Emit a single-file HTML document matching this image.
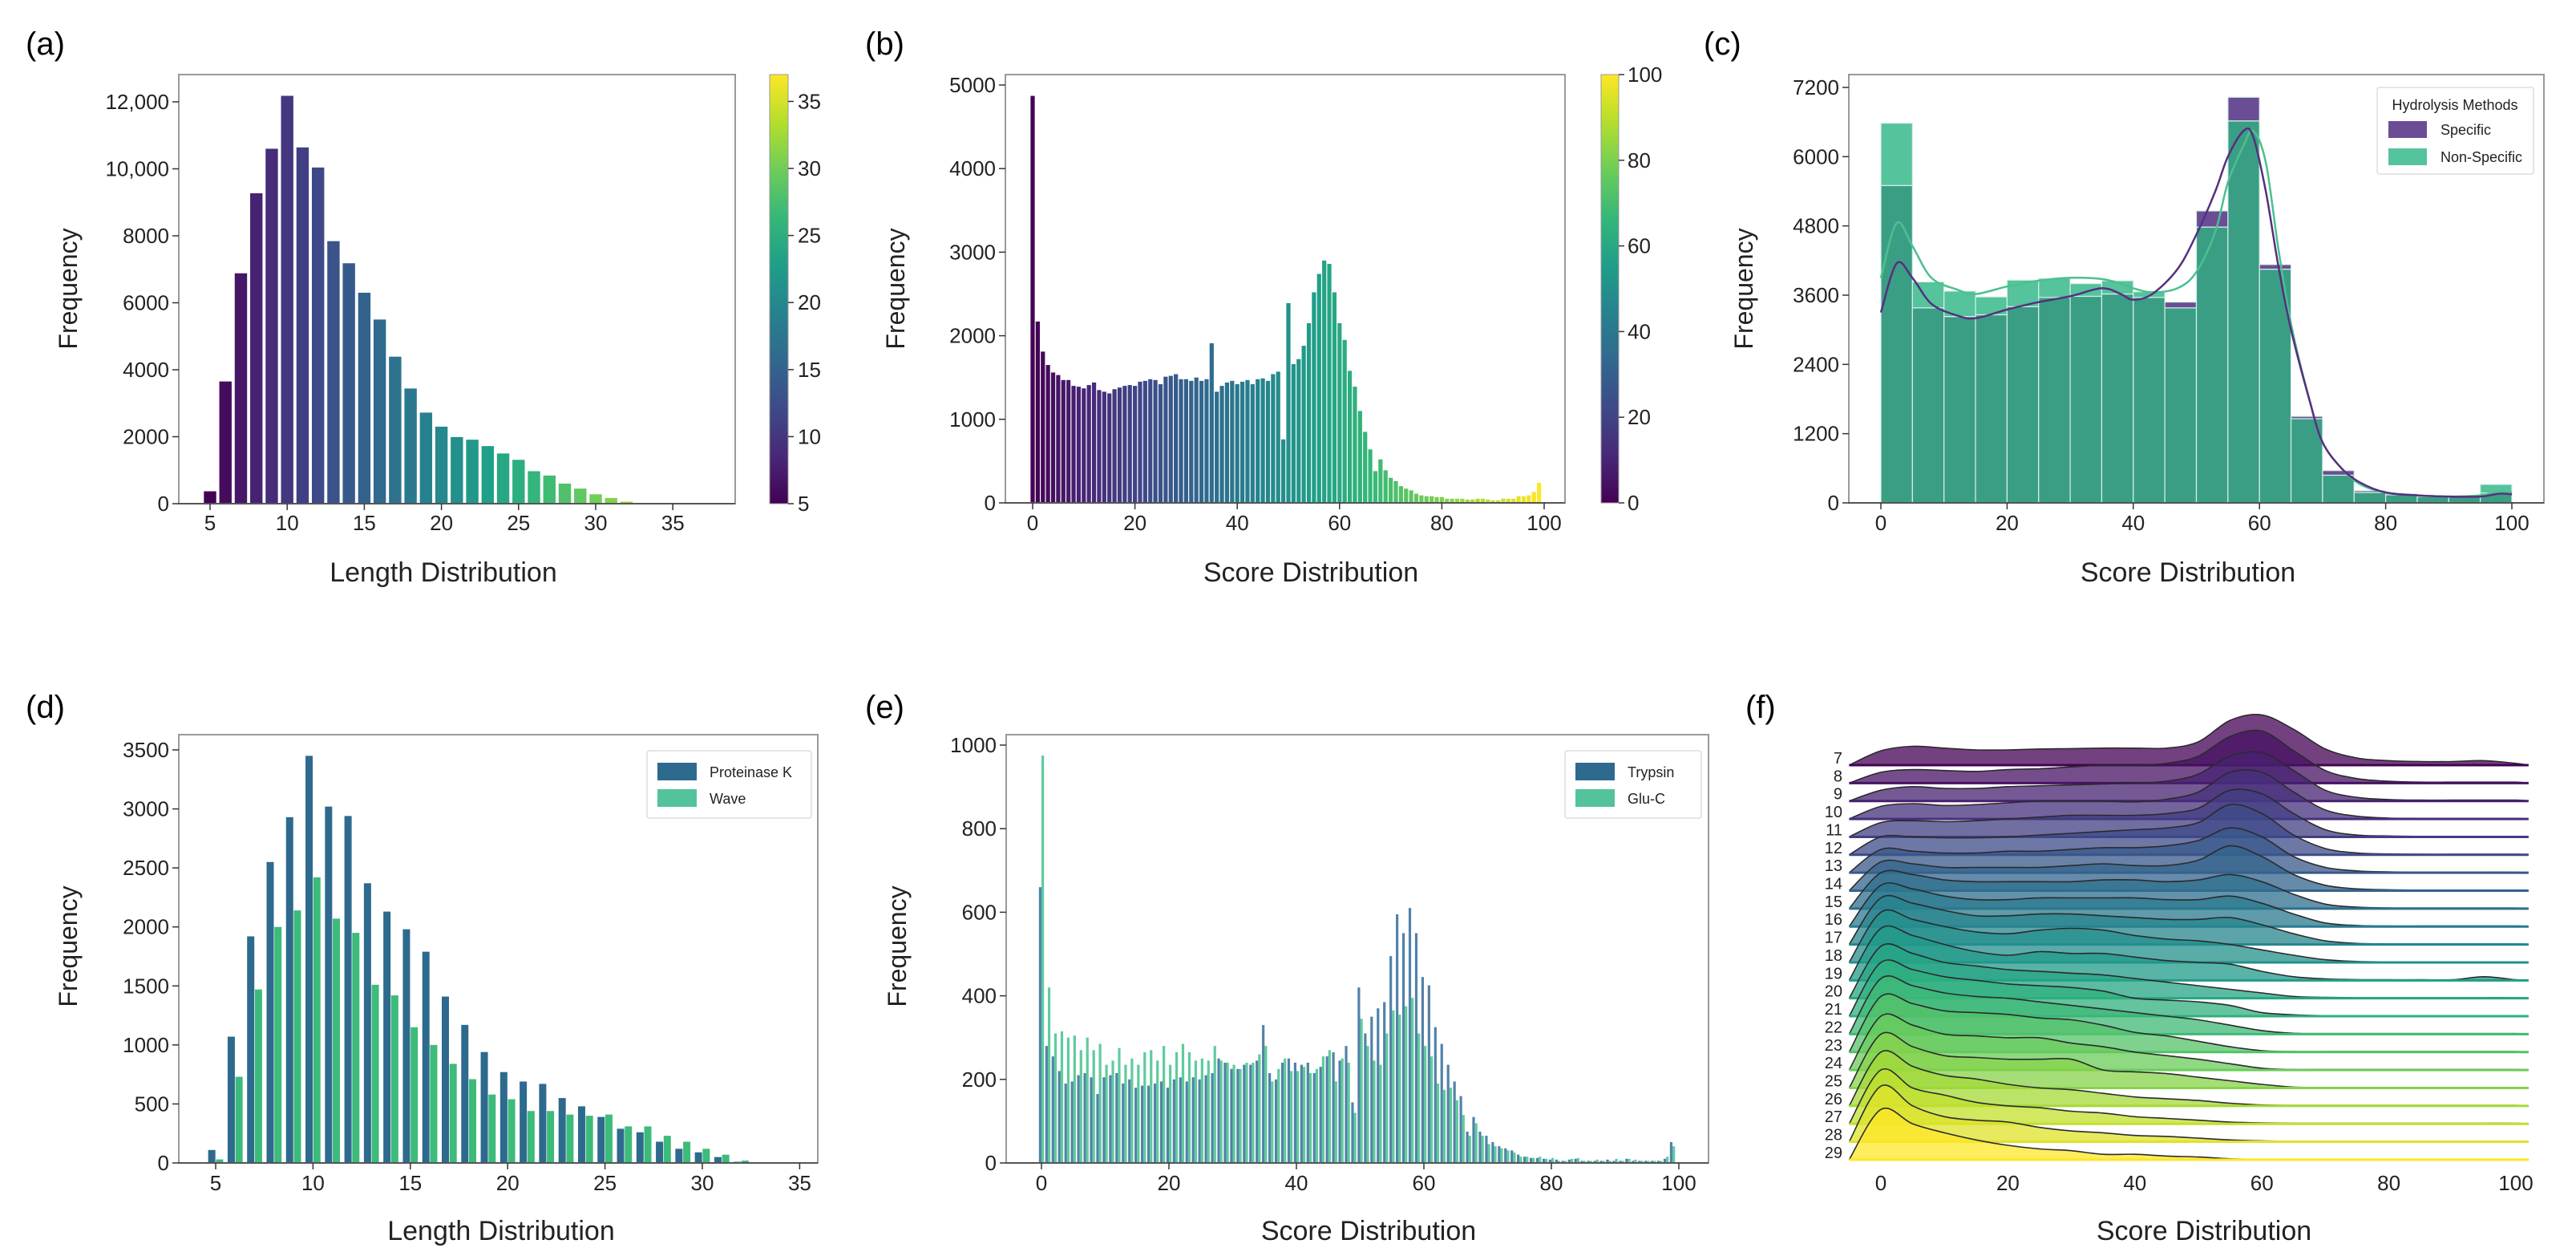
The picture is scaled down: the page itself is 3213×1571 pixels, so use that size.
<!DOCTYPE html>
<html><head><meta charset="utf-8"><style>
html,body{margin:0;padding:0;background:#fff;}
svg{display:block;font-family:"Liberation Sans",sans-serif;}
</style></head><body>
<svg id="fig" xmlns="http://www.w3.org/2000/svg" width="3213" height="1571" viewBox="0 0 3213 1571">
<defs>
<linearGradient id="vir" x1="0" y1="1" x2="0" y2="0">
<stop offset="0" stop-color="#440154"/><stop offset="0.111" stop-color="#482878"/><stop offset="0.222" stop-color="#3e4a89"/><stop offset="0.333" stop-color="#31688e"/><stop offset="0.444" stop-color="#26828e"/><stop offset="0.556" stop-color="#1f9e89"/><stop offset="0.667" stop-color="#35b779"/><stop offset="0.778" stop-color="#6dcd59"/><stop offset="0.889" stop-color="#b4de2c"/><stop offset="1" stop-color="#fde725"/>
</linearGradient>
</defs>
<text x="32" y="68" font-size="40">(a)</text>
<text x="1079" y="68" font-size="40">(b)</text>
<text x="2125" y="68" font-size="40">(c)</text>
<text x="32" y="895" font-size="40">(d)</text>
<text x="1079" y="895" font-size="40">(e)</text>
<text x="2177" y="895" font-size="40">(f)</text>
</svg>
<script>
// ---------- data ----------
const lenCats = [5,6,7,8,9,10,11,12,13,14,15,16,17,18,19,20,21,22,23,24,25,26,27,28,29,30,31,32,33,34,35,36,37];
const lenFreq = [370,3650,6880,9270,10600,12180,10640,10040,7840,7180,6300,5500,4390,3440,2720,2300,1990,1910,1720,1500,1310,970,840,600,450,280,170,60,20,10,5,5,3];
const lenYTicks = [0,2000,4000,6000,8000,10000,12000];
const lenYLabels = ['0','2000','4000','6000','8000','10,000','12,000'];
const lenXTicks = [5,10,15,20,25,30,35];

const scoreFreq = [4870,2170,1810,1650,1560,1530,1470,1470,1400,1390,1370,1410,1440,1350,1330,1310,1360,1380,1400,1410,1400,1450,1460,1480,1470,1420,1510,1520,1540,1480,1480,1460,1500,1460,1480,1910,1330,1400,1440,1460,1420,1450,1470,1420,1480,1490,1460,1540,1570,760,2390,1660,1720,1880,2150,2520,2740,2900,2860,2520,2150,1950,1580,1390,1100,850,640,380,520,390,300,260,200,170,150,110,90,80,80,70,70,50,50,50,50,40,40,50,50,40,30,30,50,50,50,80,80,90,130,240];
const scoreYTicks = [0,1000,2000,3000,4000,5000];
const scoreXTicks = [0,20,40,60,80,100];

const binStarts = [0,5,10,15,20,25,30,35,40,45,50,55,60,65,70,75,80,85,90,95];
const specificCounts = [5500,3380,3230,3260,3400,3560,3580,3620,3560,3480,5060,7030,4130,1500,560,210,160,120,110,170];
const nonSpecificCounts = [6580,3830,3670,3570,3860,3890,3800,3850,3660,3380,4780,6620,4050,1460,480,180,140,110,110,320];
const kdeX = [0,2.5,5,8,12,15,20,25,30,35,38,40,43,47,50,53,55,57.5,59,61,63,65,68,70,73,76,80,85,90,95,98,100];
const kdeSpecific = [3300,4150,3900,3450,3250,3200,3350,3480,3580,3720,3620,3520,3620,4050,4650,5400,6000,6450,6350,5400,4100,3000,1750,1050,600,350,180,130,110,110,160,150];
const kdeNonSpecific = [3900,4850,4450,3900,3700,3620,3750,3850,3900,3880,3800,3720,3650,3720,4000,4700,5550,6200,6450,5900,4400,3100,1750,1050,600,320,180,130,110,130,200,180];
const cYTicks = [0,1200,2400,3600,4800,6000,7200];

const dCats = [5,6,7,8,9,10,11,12,13,14,15,16,17,18,19,20,21,22,23,24,25,26,27,28,29,30,31,32];
const proteinaseK = [110,1070,1920,2550,2930,3450,3020,2940,2370,2130,1980,1790,1410,1170,940,770,690,670,550,480,390,290,260,180,120,90,50,10];
const wave = [30,730,1470,2000,2140,2420,2070,1950,1510,1420,1150,1000,840,710,580,540,440,440,410,400,410,310,310,230,180,120,70,20];
const dYTicks = [0,500,1000,1500,2000,2500,3000,3500];

const trypsin = [660,280,255,220,190,195,210,215,205,165,205,210,215,190,200,180,185,185,190,195,180,200,205,195,205,200,210,215,250,240,225,225,235,235,245,330,215,200,240,250,240,235,240,215,230,255,265,245,280,145,420,310,350,370,385,495,595,550,610,550,445,425,325,285,235,195,160,75,110,75,65,50,40,35,30,20,15,12,12,10,8,8,5,8,10,5,5,5,5,8,5,5,10,5,5,5,5,5,10,50,0];
const gluC = [975,420,310,315,300,305,270,300,270,285,235,245,275,235,250,235,265,270,245,280,235,265,285,265,245,250,245,280,245,240,235,225,240,240,260,280,195,225,250,220,220,230,215,225,255,270,195,250,240,120,345,280,245,235,310,365,355,375,395,310,280,255,190,175,180,150,115,65,95,65,45,40,35,30,25,15,15,12,15,10,12,5,5,10,12,5,5,8,5,5,10,5,10,8,5,5,5,5,15,40,0];
const eYTicks = [0,200,400,600,800,1000];

const ridgeRows = [7,8,9,10,11,12,13,14,15,16,17,18,19,20,21,22,23,24,25,26,27,28,29];
const ridgeX = [-5,0,5,10,15,20,25,30,35,40,45,50,55,60,65,70,75,80,85,90,95,100];
const ridgeDensity = [
[0,0.8,1.05,0.95,0.85,0.85,0.9,0.92,0.95,0.95,0.95,1.3,2.5,2.8,2.0,0.9,0.4,0.25,0.2,0.2,0.25,0.1],
[0,0.6,0.75,0.7,0.65,0.75,0.8,0.9,1.0,1.0,1.1,1.5,2.6,2.9,1.8,0.7,0.25,0.1,0.05,0.05,0.05,0.05],
[0,0.6,0.8,0.7,0.7,0.8,0.85,0.9,0.95,1.0,1.1,1.5,2.5,2.7,1.7,0.6,0.2,0.08,0.05,0.05,0.05,0.05],
[0,0.7,0.85,0.75,0.8,0.9,1.0,1.0,1.0,0.95,1.1,1.5,2.6,2.6,1.5,0.5,0.15,0.05,0.03,0.03,0.03,0.03],
[0,0.8,0.9,0.85,0.9,1.0,1.1,1.2,1.2,1.2,1.3,1.6,2.6,2.4,1.3,0.4,0.1,0.05,0.03,0.03,0.03,0.03],
[0,1.0,1.0,0.95,0.95,1.0,1.1,1.2,1.3,1.4,1.5,1.8,2.8,2.3,1.1,0.35,0.1,0.05,0.03,0.03,0.03,0.03],
[0,1.3,1.2,1.1,1.1,1.2,1.2,1.3,1.4,1.4,1.5,1.8,2.5,2.0,0.9,0.3,0.1,0.05,0.03,0.03,0.03,0.03],
[0,1.6,1.5,1.3,1.3,1.3,1.3,1.4,1.5,1.4,1.4,1.7,2.5,1.9,0.9,0.3,0.1,0.05,0.03,0.03,0.03,0.03],
[0,2.0,1.9,1.6,1.5,1.5,1.5,1.5,1.6,1.6,1.5,1.6,1.9,1.5,0.8,0.25,0.08,0.04,0.03,0.03,0.03,0.03],
[0,2.3,2.1,1.7,1.5,1.5,1.6,1.6,1.6,1.6,1.5,1.5,1.7,1.3,0.7,0.2,0.06,0.03,0.03,0.03,0.03,0.03],
[0,2.6,2.3,1.9,1.6,1.6,1.7,1.7,1.6,1.5,1.4,1.4,1.5,1.1,0.6,0.2,0.06,0.03,0.03,0.03,0.03,0.03],
[0,2.8,2.4,2.0,1.7,1.6,1.8,1.9,1.8,1.5,1.3,1.2,1.0,0.7,0.4,0.15,0.05,0.03,0.03,0.03,0.03,0.03],
[0,2.9,2.5,2.0,1.6,1.4,1.6,1.5,1.5,1.3,1.1,1.0,0.9,0.5,0.2,0.08,0.04,0.03,0.03,0.03,0.2,0.03],
[0,2.9,2.5,2.0,1.8,1.6,1.5,1.4,1.3,1.1,0.9,0.7,0.5,0.3,0.1,0.05,0.03,0.03,0.03,0.03,0.03,0.03],
[0,3.0,2.6,2.2,2.0,1.8,1.7,1.6,1.4,1.0,0.9,0.8,0.6,0.2,0.08,0.03,0.03,0.03,0.03,0.03,0.03,0.03],
[0,3.1,2.7,2.3,2.1,2.0,1.8,1.6,1.4,1.2,1.0,0.8,0.5,0.2,0.05,0.03,0.03,0.03,0.03,0.03,0.03,0.03],
[0,3.1,2.7,2.3,2.2,2.1,1.9,1.8,1.5,1.1,0.9,0.6,0.3,0.08,0.03,0.03,0.03,0.03,0.03,0.03,0.03,0.03],
[0,3.0,2.5,2.0,1.9,1.8,1.8,1.5,1.3,1.0,0.8,0.6,0.35,0.1,0.03,0.03,0.03,0.03,0.03,0.03,0.03,0.03],
[0,3.0,2.3,1.8,1.7,1.6,1.6,1.6,1.0,0.9,0.8,0.6,0.4,0.2,0.05,0.03,0.03,0.03,0.03,0.03,0.03,0.03],
[0,3.0,2.2,1.7,1.5,1.2,1.0,0.9,0.7,0.5,0.4,0.3,0.15,0.05,0.03,0.03,0.03,0.03,0.03,0.03,0.03,0.03],
[0,3.0,2.0,1.6,1.2,1.0,0.9,0.7,0.6,0.4,0.3,0.2,0.1,0.05,0.03,0.03,0.03,0.03,0.03,0.03,0.03,0.03],
[0,3.1,2.0,1.4,1.2,1.1,0.8,0.6,0.5,0.35,0.3,0.2,0.1,0.05,0.03,0.03,0.03,0.03,0.03,0.03,0.03,0.03],
[0,2.8,2.0,1.5,1.1,0.8,0.6,0.5,0.3,0.3,0.2,0.15,0.05,0.02,0.02,0.02,0.02,0.02,0.02,0.02,0.02,0.02]
];
const fXTicks = [0,20,40,60,80,100];

// ---------- helpers ----------
const NS = 'http://www.w3.org/2000/svg';
const svg = document.getElementById('fig');
function add(parent, tag, attrs, name) {
  const el = document.createElementNS(NS, tag);
  for (const k in attrs) el.setAttribute(k, attrs[k]);
  
  
  parent.appendChild(el);
  return el;
}
function txt(parent, x, y, s, size, anchor, name, extra) {
  const el = add(parent, 'text', Object.assign({x: x, y: y, 'font-size': size, 'text-anchor': anchor || 'start', fill: '#222'}, extra || {}), name);
  el.textContent = s;
  return el;
}
const VIR = [[68,1,84],[72,40,120],[62,74,137],[49,104,142],[38,130,142],[31,158,137],[53,183,121],[109,205,89],[180,222,44],[253,231,37]];
function viridis(t) {
  t = Math.max(0, Math.min(1, t));
  const p = t * (VIR.length - 1), i = Math.min(VIR.length - 2, Math.floor(p)), f = p - i;
  const c = VIR[i].map((v, k) => Math.round(v + (VIR[i + 1][k] - v) * f));
  return 'rgb(' + c.join(',') + ')';
}
function smoothPath(pts) {
  let d = 'M' + pts[0][0] + ',' + pts[0][1];
  for (let i = 0; i < pts.length - 1; i++) {
    const p0 = pts[Math.max(0, i - 1)], p1 = pts[i], p2 = pts[i + 1], p3 = pts[Math.min(pts.length - 1, i + 2)];
    const c1x = p1[0] + (p2[0] - p0[0]) / 6, c1y = p1[1] + (p2[1] - p0[1]) / 6;
    const c2x = p2[0] - (p3[0] - p1[0]) / 6, c2y = p2[1] - (p3[1] - p1[1]) / 6;
    d += ' C' + c1x.toFixed(1) + ',' + c1y.toFixed(1) + ' ' + c2x.toFixed(1) + ',' + c2y.toFixed(1) + ' ' + p2[0].toFixed(1) + ',' + p2[1].toFixed(1);
  }
  return d;
}
function frame(g, x0, y0, x1, y1, name) {
  add(g, 'rect', {x: x0, y: y0, width: x1 - x0, height: y1 - y0, fill: 'none', stroke: '#9a9a9a', 'stroke-width': 2}, name);
}
function yAxis(g, x0, ticks, labels, yf, pfx) {
  ticks.forEach((t, i) => {
    add(g, 'line', {x1: x0 - 8, x2: x0, y1: yf(t), y2: yf(t), stroke: '#333', 'stroke-width': 1.5}, pfx + '-y-tick');
    txt(g, x0 - 12, yf(t) + 9, labels[i], 26, 'end', pfx + '-y-tick-label');
  });
}
function xAxis(g, yb, ticks, xf, ly, pfx, noTick) {
  ticks.forEach(t => {
    if (!noTick) add(g, 'line', {x1: xf(t), x2: xf(t), y1: yb, y2: yb + 8, stroke: '#333', 'stroke-width': 1.5}, pfx + '-x-tick');
    txt(g, xf(t), ly, String(t), 26, 'middle', pfx + '-x-tick-label');
  });
}
function yTitle(g, x, y, pfx) {
  txt(g, x, y, 'Frequency', 32, 'middle', pfx + '-y-axis-title', {transform: 'rotate(-90 ' + x + ' ' + y + ')'});
}

// ---------- panel a ----------
(function () {
  const g = add(svg, 'g', {}, 'panel-a-length-histogram');
  const xA = v => 262 + (v - 5) * 19.24;
  const yA = v => 628 - v * (501 / 12000);
  lenCats.forEach((c, i) => {
    add(g, 'rect', {x: xA(c) - 7.7, y: yA(lenFreq[i]), width: 15.4, height: 628 - yA(lenFreq[i]), fill: viridis((c - 5) / 32)}, 'bar-length-' + c);
  });
  frame(g, 223, 93, 917, 628, 'panel-a-plot-frame');
  add(g, 'line', {x1: 223, x2: 917, y1: 628, y2: 628, stroke: '#555', 'stroke-width': 2}, 'panel-a-x-axis');
  yAxis(g, 223, lenYTicks, lenYLabels, yA, 'panel-a');
  xAxis(g, 628, lenXTicks, xA, 661, 'panel-a');
  txt(g, 553, 725, 'Length Distribution', 34, 'middle', 'panel-a-x-axis-title');
  yTitle(g, 96, 360, 'panel-a');
  add(g, 'rect', {x: 960, y: 93, width: 23, height: 535, fill: 'url(#vir)', stroke: '#999', 'stroke-width': 1}, 'panel-a-colorbar');
  [5,10,15,20,25,30,35].forEach(v => {
    const y = 628 - (v - 5) / 32 * 535;
    add(g, 'line', {x1: 983, x2: 990, y1: y, y2: y, stroke: '#333', 'stroke-width': 1.5}, 'colorbar-a-tick');
    txt(g, 995, y + 9, String(v), 26, 'start', 'colorbar-a-tick-label');
  });
})();

// ---------- panel b ----------
(function () {
  const g = add(svg, 'g', {}, 'panel-b-score-histogram');
  const xB = v => 1288 + v * 6.38;
  const yB = v => 627 - v * (521 / 5000);
  scoreFreq.forEach((f, i) => {
    add(g, 'rect', {x: xB(i) - 2.6, y: yB(f), width: 5.2, height: 627 - yB(f), fill: viridis(i / 99)}, 'bar-score-' + i);
  });
  frame(g, 1254, 93, 1952, 627, 'panel-b-plot-frame');
  add(g, 'line', {x1: 1254, x2: 1952, y1: 627, y2: 627, stroke: '#555', 'stroke-width': 2}, 'panel-b-x-axis');
  yAxis(g, 1254, scoreYTicks, scoreYTicks.map(String), yB, 'panel-b');
  xAxis(g, 627, scoreXTicks, xB, 661, 'panel-b');
  txt(g, 1635, 725, 'Score Distribution', 34, 'middle', 'panel-b-x-axis-title');
  yTitle(g, 1128, 360, 'panel-b');
  add(g, 'rect', {x: 1997, y: 93, width: 22, height: 534, fill: 'url(#vir)', stroke: '#999', 'stroke-width': 1}, 'panel-b-colorbar');
  [0,20,40,60,80,100].forEach(v => {
    const y = 627 - v / 100 * 534;
    add(g, 'line', {x1: 2019, x2: 2026, y1: y, y2: y, stroke: '#333', 'stroke-width': 1.5}, 'colorbar-b-tick');
    txt(g, 2030, y + 9, String(v), 26, 'start', 'colorbar-b-tick-label');
  });
})();

// ---------- panel c ----------
(function () {
  const g = add(svg, 'g', {}, 'panel-c-hydrolysis-histogram');
  const xC = v => 2346 + v * 7.87;
  const yC = v => 627 - v * (518 / 7200);
  binStarts.forEach((b, i) => {
    const s = specificCounts[i], n = nonSpecificCounts[i], lo = Math.min(s, n), hi = Math.max(s, n);
    const x0 = xC(b), w = xC(b + 5) - x0;
    add(g, 'rect', {x: x0, y: yC(lo), width: w, height: 627 - yC(lo), fill: '#3a9e84', stroke: '#d8efe8', 'stroke-width': 1.2}, 'bar-overlap-' + b);
    add(g, 'rect', {x: x0, y: yC(hi), width: w, height: yC(lo) - yC(hi), fill: s > n ? '#6b4d96' : '#55c39b', stroke: '#d8efe8', 'stroke-width': 1.2}, s > n ? 'bar-specific-' + b : 'bar-non-specific-' + b);
  });
  add(g, 'path', {d: smoothPath(kdeX.map((x, i) => [xC(x), yC(kdeNonSpecific[i])])), fill: 'none', stroke: '#4cc08f', 'stroke-width': 2.5}, 'kde-non-specific');
  add(g, 'path', {d: smoothPath(kdeX.map((x, i) => [xC(x), yC(kdeSpecific[i])])), fill: 'none', stroke: '#55307f', 'stroke-width': 2.5}, 'kde-specific');
  frame(g, 2306, 93, 3173, 627, 'panel-c-plot-frame');
  add(g, 'line', {x1: 2306, x2: 3173, y1: 627, y2: 627, stroke: '#555', 'stroke-width': 2}, 'panel-c-x-axis');
  yAxis(g, 2306, cYTicks, cYTicks.map(String), yC, 'panel-c');
  xAxis(g, 627, scoreXTicks, xC, 661, 'panel-c');
  txt(g, 2729, 725, 'Score Distribution', 34, 'middle', 'panel-c-x-axis-title');
  yTitle(g, 2186, 360, 'panel-c');
  const lg = add(g, 'g', {}, 'panel-c-legend');
  add(lg, 'rect', {x: 2965, y: 109, width: 195, height: 108, fill: '#fff', stroke: '#ddd', 'stroke-width': 1.5, rx: 3}, 'legend-box');
  txt(lg, 3062, 137, 'Hydrolysis Methods', 18, 'middle', 'legend-title');
  add(lg, 'rect', {x: 2979, y: 151, width: 48, height: 21, fill: '#6b4d96'}, 'legend-swatch-specific');
  txt(lg, 3044, 168, 'Specific', 18, 'start', 'legend-label-specific');
  add(lg, 'rect', {x: 2979, y: 185, width: 48, height: 21, fill: '#55c39b'}, 'legend-swatch-non-specific');
  txt(lg, 3044, 202, 'Non-Specific', 18, 'start', 'legend-label-non-specific');
})();

// ---------- panel d ----------
(function () {
  const g = add(svg, 'g', {}, 'panel-d-length-by-enzyme');
  const xD = v => 269 + (v - 5) * 24.28;
  const yD = v => 1450 - v * (515 / 3500);
  dCats.forEach((c, i) => {
    add(g, 'rect', {x: xD(c - 0.2) - 4.5, y: yD(proteinaseK[i]), width: 9, height: 1450 - yD(proteinaseK[i]), fill: '#2d6a8e'}, 'bar-proteinase-k-' + c);
    add(g, 'rect', {x: xD(c + 0.2) - 4.5, y: yD(wave[i]), width: 9, height: 1450 - yD(wave[i]), fill: '#3dbb7a'}, 'bar-wave-' + c);
  });
  frame(g, 223, 916, 1020, 1450, 'panel-d-plot-frame');
  add(g, 'line', {x1: 223, x2: 1020, y1: 1450, y2: 1450, stroke: '#555', 'stroke-width': 2}, 'panel-d-x-axis');
  yAxis(g, 223, dYTicks, dYTicks.map(String), yD, 'panel-d');
  xAxis(g, 1450, [5,10,15,20,25,30,35], xD, 1484, 'panel-d');
  txt(g, 625, 1546, 'Length Distribution', 34, 'middle', 'panel-d-x-axis-title');
  yTitle(g, 96, 1180, 'panel-d');
  const lg = add(g, 'g', {}, 'panel-d-legend');
  add(lg, 'rect', {x: 807, y: 936, width: 205, height: 84, fill: '#fff', stroke: '#ddd', 'stroke-width': 1.5, rx: 3}, 'legend-box');
  add(lg, 'rect', {x: 820, y: 951, width: 49, height: 22, fill: '#2d6a8e'}, 'legend-swatch-proteinase-k');
  txt(lg, 885, 969, 'Proteinase K', 18, 'start', 'legend-label-proteinase-k');
  add(lg, 'rect', {x: 820, y: 984, width: 49, height: 22, fill: '#52c39a'}, 'legend-swatch-wave');
  txt(lg, 885, 1002, 'Wave', 18, 'start', 'legend-label-wave');
})();

// ---------- panel e ----------
(function () {
  const g = add(svg, 'g', {}, 'panel-e-score-by-enzyme');
  const xE = v => 1299 + v * 7.95;
  const yE = v => 1450 - v * 0.521;
  trypsin.forEach((t, i) => {
    add(g, 'rect', {x: xE(i - 0.2) - 1.6, y: yE(t), width: 3.2, height: 1450 - yE(t), fill: '#3f74a0', 'fill-opacity': 0.9}, 'bar-trypsin-' + i);
    add(g, 'rect', {x: xE(i + 0.2) - 1.6, y: yE(gluC[i]), width: 3.2, height: 1450 - yE(gluC[i]), fill: '#4fc592', 'fill-opacity': 0.9}, 'bar-glu-c-' + i);
  });
  frame(g, 1255, 916, 2131, 1450, 'panel-e-plot-frame');
  add(g, 'line', {x1: 1255, x2: 2131, y1: 1450, y2: 1450, stroke: '#555', 'stroke-width': 2}, 'panel-e-x-axis');
  yAxis(g, 1255, eYTicks, eYTicks.map(String), yE, 'panel-e');
  xAxis(g, 1450, scoreXTicks, xE, 1484, 'panel-e');
  txt(g, 1707, 1546, 'Score Distribution', 34, 'middle', 'panel-e-x-axis-title');
  yTitle(g, 1130, 1180, 'panel-e');
  const lg = add(g, 'g', {}, 'panel-e-legend');
  add(lg, 'rect', {x: 1952, y: 936, width: 170, height: 84, fill: '#fff', stroke: '#ddd', 'stroke-width': 1.5, rx: 3}, 'legend-box');
  add(lg, 'rect', {x: 1965, y: 951, width: 49, height: 22, fill: '#2d6a8e'}, 'legend-swatch-trypsin');
  txt(lg, 2030, 969, 'Trypsin', 18, 'start', 'legend-label-trypsin');
  add(lg, 'rect', {x: 1965, y: 984, width: 49, height: 22, fill: '#52c39a'}, 'legend-swatch-glu-c');
  txt(lg, 2030, 1002, 'Glu-C', 18, 'start', 'legend-label-glu-c');
})();

// ---------- panel f ----------
(function () {
  const g = add(svg, 'g', {}, 'panel-f-ridgeline');
  const xF = v => 2346 + v * 7.92;
  const unit = 22.36;
  const base = i => 954 + i * unit;
  ridgeRows.forEach((r, i) => {
    const b = base(i);
    const pts = ridgeX.map((x, k) => [xF(x), b - ridgeDensity[i][k] * unit]);
    pts.push([xF(102), b]);
    const top = smoothPath(pts);
    add(g, 'path', {d: top + ' L' + xF(102) + ',' + b + ' L' + xF(-5) + ',' + b + ' Z', fill: viridis(i / 22), 'fill-opacity': 0.75, stroke: 'none'}, 'ridge-fill-' + r);
    add(g, 'path', {d: top, fill: 'none', stroke: '#2b2b2b', 'stroke-width': 1.6}, 'ridge-line-' + r);
    add(g, 'line', {x1: xF(-5), x2: xF(102), y1: b, y2: b, stroke: viridis(i / 22), 'stroke-width': 3}, 'ridge-baseline-' + r);
    add(g, 'line', {x1: xF(-5), x2: xF(102), y1: b + 2.5, y2: b + 2.5, stroke: '#ffffff', 'stroke-width': 1.5, 'stroke-opacity': 0.8}, 'ridge-gap-' + r);
    txt(g, 2298, b - 2, String(r), 20, 'end', 'ridge-label-' + r);
  });
  xAxis(g, 1450, fXTicks, xF, 1484, 'panel-f', true);
  txt(g, 2749, 1546, 'Score Distribution', 34, 'middle', 'panel-f-x-axis-title');
})();
</script>
</body></html>
